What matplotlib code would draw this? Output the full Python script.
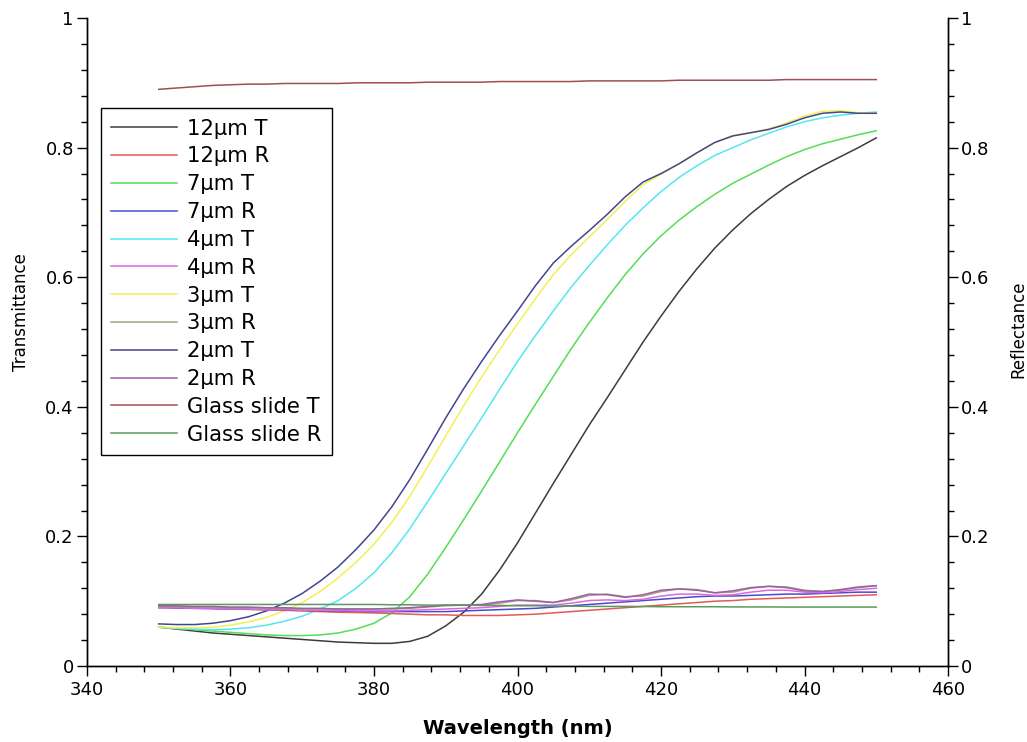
import numpy as np
import matplotlib
matplotlib.use("Agg")
import matplotlib.pyplot as plt
from matplotlib.ticker import MultipleLocator

plt.rcParams['font.family'] = ['DejaVu Sans']

# Wavelength grid (nm)
wavelength = np.arange(350, 452.5, 2.5)

# Transmittance spectra
t_12um = [0.060, 0.057, 0.054, 0.051, 0.049, 0.047, 0.045, 0.043, 0.041, 0.039,
          0.037, 0.036, 0.035, 0.035, 0.038, 0.046, 0.062, 0.083, 0.111, 0.148,
          0.190, 0.236, 0.282, 0.327, 0.372, 0.414, 0.457, 0.500, 0.540, 0.578,
          0.613, 0.645, 0.673, 0.698, 0.720, 0.740, 0.757, 0.772, 0.786, 0.800,
          0.815]
t_7um = [0.060, 0.058, 0.056, 0.054, 0.052, 0.050, 0.048, 0.047, 0.047, 0.048,
         0.051, 0.057, 0.066, 0.082, 0.107, 0.142, 0.183, 0.226, 0.270, 0.315,
         0.360, 0.404, 0.447, 0.490, 0.530, 0.568, 0.604, 0.636, 0.664, 0.688,
         0.709, 0.728, 0.745, 0.759, 0.773, 0.786, 0.797, 0.806, 0.813, 0.820,
         0.826]
t_4um = [0.060, 0.058, 0.057, 0.056, 0.057, 0.059, 0.063, 0.069, 0.077, 0.088,
         0.101, 0.120, 0.144, 0.175, 0.212, 0.254, 0.297, 0.340, 0.383, 0.427,
         0.470, 0.510, 0.548, 0.585, 0.618, 0.650, 0.680, 0.707, 0.732, 0.754,
         0.772, 0.788, 0.800, 0.812, 0.822, 0.832, 0.840, 0.846, 0.850, 0.853,
         0.855]
t_3um = [0.060, 0.059, 0.059, 0.060, 0.063, 0.068, 0.075, 0.085, 0.098, 0.115,
         0.136, 0.160, 0.188, 0.222, 0.262, 0.308, 0.355, 0.402, 0.446, 0.488,
         0.528, 0.567, 0.604, 0.635, 0.662, 0.689, 0.717, 0.743, 0.759, 0.775,
         0.792, 0.808, 0.819, 0.823, 0.829, 0.838, 0.849, 0.856, 0.857, 0.854,
         0.853]
t_2um = [0.065, 0.064, 0.064, 0.066, 0.070, 0.076, 0.085, 0.097, 0.112, 0.131,
         0.153, 0.180, 0.210, 0.246, 0.288, 0.335, 0.383, 0.428, 0.470, 0.510,
         0.548, 0.587, 0.622, 0.648, 0.672, 0.697, 0.724, 0.747, 0.760, 0.775,
         0.792, 0.808, 0.818, 0.823, 0.828, 0.836, 0.846, 0.853, 0.855, 0.853,
         0.853]
t_glass = [0.890, 0.892, 0.894, 0.896, 0.897, 0.898, 0.898, 0.899, 0.899, 0.899,
           0.899, 0.900, 0.900, 0.900, 0.900, 0.901, 0.901, 0.901, 0.901, 0.902,
           0.902, 0.902, 0.902, 0.902, 0.903, 0.903, 0.903, 0.903, 0.903, 0.904,
           0.904, 0.904, 0.904, 0.904, 0.904, 0.905, 0.905, 0.905, 0.905, 0.905,
           0.905]

# Reflectance spectra
r_12um = [0.091, 0.0905, 0.090, 0.089, 0.088, 0.0875, 0.087, 0.086, 0.085, 0.084,
          0.083, 0.0825, 0.082, 0.081, 0.080, 0.079, 0.079, 0.078, 0.078, 0.078,
          0.079, 0.080, 0.082, 0.084, 0.086, 0.088, 0.090, 0.092, 0.094, 0.096,
          0.098, 0.100, 0.101, 0.103, 0.104, 0.105, 0.106, 0.107, 0.108, 0.109,
          0.110]
r_7um = [0.090, 0.0895, 0.089, 0.0885, 0.088, 0.0875, 0.087, 0.0865, 0.086, 0.0855,
         0.085, 0.0845, 0.084, 0.084, 0.084, 0.084, 0.084, 0.085, 0.086, 0.087,
         0.088, 0.089, 0.091, 0.093, 0.095, 0.097, 0.099, 0.101, 0.103, 0.105,
         0.107, 0.108, 0.108, 0.109, 0.110, 0.111, 0.111, 0.112, 0.113, 0.114,
         0.114]
r_4um = [0.090, 0.090, 0.089, 0.089, 0.088, 0.088, 0.087, 0.087, 0.086, 0.086,
         0.086, 0.085, 0.085, 0.085, 0.086, 0.087, 0.088, 0.089, 0.090, 0.092,
         0.094, 0.094, 0.094, 0.097, 0.101, 0.102, 0.101, 0.103, 0.108, 0.111,
         0.111, 0.109, 0.110, 0.114, 0.117, 0.117, 0.114, 0.113, 0.115, 0.118,
         0.120]
r_3um = [0.092, 0.092, 0.091, 0.091, 0.090, 0.090, 0.089, 0.089, 0.088, 0.088,
         0.088, 0.088, 0.088, 0.088, 0.089, 0.091, 0.093, 0.094, 0.094, 0.097,
         0.101, 0.101, 0.098, 0.102, 0.109, 0.111, 0.107, 0.108, 0.115, 0.119,
         0.118, 0.113, 0.114, 0.120, 0.123, 0.122, 0.117, 0.115, 0.117, 0.121,
         0.124]
r_2um = [0.093, 0.093, 0.092, 0.092, 0.091, 0.091, 0.090, 0.090, 0.089, 0.089,
         0.088, 0.088, 0.088, 0.089, 0.090, 0.092, 0.094, 0.094, 0.095, 0.099,
         0.102, 0.100, 0.098, 0.104, 0.111, 0.110, 0.106, 0.110, 0.117, 0.119,
         0.117, 0.113, 0.116, 0.121, 0.123, 0.121, 0.116, 0.115, 0.118, 0.122,
         0.124]
r_glass = [0.095, 0.095, 0.095, 0.095, 0.095, 0.095, 0.095, 0.095, 0.095, 0.095,
           0.095, 0.095, 0.095, 0.0945, 0.0945, 0.094, 0.094, 0.094, 0.0935, 0.0935,
           0.093, 0.093, 0.0925, 0.0925, 0.092, 0.092, 0.092, 0.0918, 0.0915, 0.0915,
           0.0915, 0.0915, 0.0912, 0.0912, 0.0912, 0.091, 0.091, 0.091, 0.091, 0.091,
           0.091]

labels = ["12µm T", "12µm R", "7µm T", "7µm R", "4µm T", "4µm R",
          "3µm T", "3µm R", "2µm T", "2µm R", "Glass slide T", "Glass slide R"]
colors = ["#3c3c3c", "#e25a5a", "#55dd55", "#4a4ad0", "#55e6f0", "#e066e0",
          "#f2f055", "#a3a27a", "#45458f", "#9a5fa8", "#a04f55", "#5a9a5a"]

fig = plt.figure(figsize=(10.27, 7.42), dpi=100)
ax = fig.add_axes([0.0847, 0.1024, 0.8384, 0.8733])
ax2 = ax.twinx()

series = [(ax, t_12um), (ax2, r_12um), (ax, t_7um), (ax2, r_7um),
          (ax, t_4um), (ax2, r_4um), (ax, t_3um), (ax2, r_3um),
          (ax, t_2um), (ax2, r_2um), (ax, t_glass), (ax2, r_glass)]

handles = []
for (a, vals), lab, col in zip(series, labels, colors):
    h, = a.plot(wavelength, vals, color=col, lw=1.1, label=lab)
    handles.append(h)


def tick_fmt(v, pos):
    v = round(v, 6)
    if v == 0:
        return "0"
    if v == 1:
        return "1"
    return f"{v:.1f}"


for a in (ax, ax2):
    a.set_xlim(340, 460)
    a.set_ylim(0, 1)
    a.spines['top'].set_visible(False)
    a.yaxis.set_major_locator(MultipleLocator(0.2))
    a.yaxis.set_minor_locator(MultipleLocator(0.04))
    a.yaxis.set_major_formatter(plt.FuncFormatter(tick_fmt))
    a.tick_params(which='major', length=7, width=1, labelsize=13, pad=2.5)
    a.tick_params(which='minor', length=4, width=1)
    for s in a.spines.values():
        s.set_linewidth(1)

ax.xaxis.set_major_locator(MultipleLocator(20))
ax.xaxis.set_minor_locator(MultipleLocator(4))
ax.tick_params(axis='x', which='major', pad=4)

ax.set_xlabel("Wavelength (nm)", fontsize=14, fontweight='bold', labelpad=14)
ax.set_ylabel("Transmittance", fontsize=12)
ax2.set_ylabel("Reflectance", fontsize=12)
ax.yaxis.set_label_coords(-0.066, 0.546)
ax2.yaxis.set_label_coords(1.071, 0.519)

leg = ax2.legend(handles=handles, loc='upper left', bbox_to_anchor=(0.016, 0.861),
                 borderaxespad=0, fontsize=15.2, frameon=True, fancybox=False,
                 edgecolor='black', framealpha=1, handlelength=3.1,
                 handletextpad=0.5, labelspacing=0.37, borderpad=0.5)
leg.get_frame().set_linewidth(1)

fig.savefig("out.png", dpi=100)
